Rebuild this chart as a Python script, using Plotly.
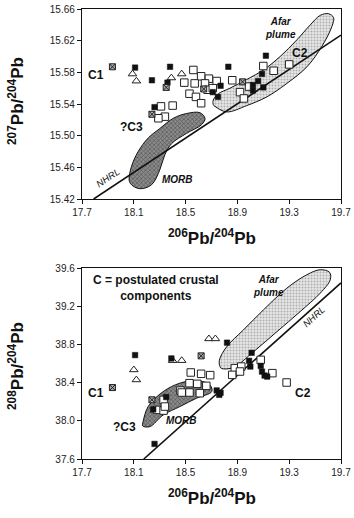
import plotly.graph_objects as go

# ---------------- top panel: 207Pb/204Pb vs 206Pb/204Pb ----------------
top_open_sq_x = [18.31, 18.40, 18.34, 18.29, 18.56, 18.62, 18.68, 18.49, 18.57, 18.65,
                 18.53, 18.58, 18.62, 18.67, 18.74, 18.86, 18.92, 18.95, 18.99, 19.10,
                 19.18, 19.30, 18.71]
top_open_sq_y = [15.537, 15.538, 15.524, 15.522, 15.583, 15.575, 15.572, 15.567, 15.566, 15.566,
                 15.553, 15.549, 15.541, 15.558, 15.569, 15.570, 15.555, 15.547, 15.562, 15.588,
                 15.582, 15.590, 15.560]
top_filled_x = [18.11, 18.24, 18.36, 18.38, 18.26, 18.83, 18.71, 18.77, 18.75, 19.12,
                19.09, 19.02, 19.06, 19.02, 19.10]
top_filled_y = [15.586, 15.570, 15.567, 15.587, 15.536, 15.587, 15.555, 15.563, 15.549, 15.601,
                15.578, 15.564, 15.569, 15.557, 15.561]
top_cross_x = [17.935, 18.35, 18.64, 18.94, 18.24]
top_cross_y = [15.587, 15.561, 15.559, 15.568, 15.527]
top_tri_x = [18.09, 18.12, 18.39, 18.47]
top_tri_y = [15.578, 15.569, 15.573, 15.578]

top_plume_x = [18.727, 18.817, 18.972, 19.127, 19.282, 19.437, 19.553, 19.630, 19.643, 19.605,
               19.540, 19.463, 19.359, 19.230, 19.101, 18.972, 18.843, 18.753, 18.714, 18.714, 18.727]
top_plume_y = [15.537, 15.530, 15.538, 15.549, 15.566, 15.587, 15.613, 15.638, 15.649, 15.654,
               15.652, 15.640, 15.621, 15.600, 15.583, 15.571, 15.560, 15.553, 15.545, 15.539, 15.537]
top_morb_x = [18.064, 18.082, 18.134, 18.211, 18.301, 18.405, 18.508, 18.611, 18.650, 18.624,
              18.508, 18.392, 18.340, 18.301, 18.237, 18.146, 18.082, 18.064]
top_morb_y = [15.444, 15.461, 15.480, 15.497, 15.509, 15.522, 15.528, 15.529, 15.522, 15.514,
              15.503, 15.490, 15.476, 15.457, 15.438, 15.433, 15.438, 15.444]
top_nhrl_x = [17.79, 19.70]
top_nhrl_y = [15.420, 15.627]

# ---------------- bottom panel: 208Pb/204Pb vs 206Pb/204Pb ----------------
bot_open_sq_x = [18.54, 18.62, 18.69, 18.53, 18.59, 18.66, 18.46, 18.53, 18.61, 18.33,
                 18.28, 18.33, 18.34, 18.47, 18.88, 18.93, 18.86, 19.08, 19.17, 19.28, 18.92]
bot_open_sq_y = [38.506, 38.492, 38.478, 38.394, 38.387, 38.366, 38.317, 38.296, 38.289, 38.219,
                 38.114, 38.107, 38.149, 38.296, 38.551, 38.568, 38.481, 38.638, 38.499, 38.401, 38.516]
bot_filled_x = [18.11, 18.39, 18.82, 18.25, 18.35, 18.26, 18.74, 18.76, 18.77, 19.01,
                18.99, 19.00, 19.08, 19.09, 19.11, 19.13]
bot_filled_y = [38.688, 38.653, 38.818, 38.119, 38.249, 37.758, 38.318, 38.272, 38.293, 38.712,
                38.628, 38.568, 38.575, 38.515, 38.474, 38.463]
bot_cross_x = [17.935, 18.62, 18.24]
bot_cross_y = [38.348, 38.680, 38.220]
bot_tri_x = [18.10, 18.12, 18.40, 18.47, 18.68, 18.73]
bot_tri_y = [38.534, 38.429, 38.631, 38.631, 38.859, 38.859]

bot_plume_x = [18.779, 18.869, 19.024, 19.205, 19.385, 19.540, 19.617, 19.612, 19.540, 19.437,
               19.282, 19.101, 18.946, 18.817, 18.761, 18.766, 18.779]
bot_plume_y = [38.547, 38.558, 38.723, 38.933, 39.144, 39.337, 39.477, 39.554, 39.582, 39.530,
               39.389, 39.161, 38.951, 38.775, 38.635, 38.565, 38.547]
bot_morb_x = [18.172, 18.211, 18.327, 18.456, 18.585, 18.688, 18.702, 18.585, 18.456, 18.327,
              18.224, 18.169, 18.172]
bot_morb_y = [37.991, 38.149, 38.306, 38.394, 38.421, 38.376, 38.306, 38.237, 38.149, 38.061,
              37.939, 37.946, 37.991]
bot_nhrl_x = [18.177, 19.70]
bot_nhrl_y = [37.600, 39.444]

x_ticks = [17.7, 18.1, 18.5, 18.9, 19.3, 19.7]
top_y_ticks = [15.42, 15.46, 15.50, 15.54, 15.58, 15.62, 15.66]
bot_y_ticks = [37.6, 38.0, 38.4, 38.8, 39.2, 39.6]

W, H = 354, 518
FONT = "Liberation Sans, Arial, sans-serif"

fig = go.Figure()


def add_panel(xa, ya, plume_x, plume_y, morb_x, morb_y, nx, ny,
              osx, osy, fx, fy, cx, cy, tx, ty):
    fig.add_trace(go.Scatter(x=plume_x, y=plume_y, mode="lines", fill="toself",
                             line=dict(color="#111", width=1, shape="spline", smoothing=1.0),
                             fillcolor="#d9d9d9",
                             fillpattern=dict(shape=".", fgcolor="#777", bgcolor="#e6e6e6",
                                              size=3, solidity=0.35),
                             xaxis=xa, yaxis=ya, hoverinfo="skip"))
    fig.add_trace(go.Scatter(x=morb_x, y=morb_y, mode="lines", fill="toself",
                             line=dict(color="#111", width=1, shape="spline", smoothing=1.0),
                             fillcolor="#666",
                             fillpattern=dict(shape="x", fgcolor="#222", bgcolor="#8a8a8a",
                                              size=3, solidity=0.4),
                             xaxis=xa, yaxis=ya, hoverinfo="skip"))
    fig.add_trace(go.Scatter(x=nx, y=ny, mode="lines", line=dict(color="#111", width=1.6),
                             xaxis=xa, yaxis=ya, hoverinfo="skip"))
    fig.add_trace(go.Scatter(x=osx, y=osy, mode="markers",
                             marker=dict(symbol="square", size=7.5, color="white",
                                         line=dict(color="#222", width=1)),
                             xaxis=xa, yaxis=ya))
    fig.add_trace(go.Scatter(x=tx, y=ty, mode="markers",
                             marker=dict(symbol="triangle-up", size=7.5, color="white",
                                         line=dict(color="#222", width=1)),
                             xaxis=xa, yaxis=ya))
    fig.add_trace(go.Scatter(x=fx, y=fy, mode="markers",
                             marker=dict(symbol="square", size=5.5, color="#111",
                                         line=dict(color="#111", width=0.5)),
                             xaxis=xa, yaxis=ya))
    fig.add_trace(go.Scatter(x=cx, y=cy, mode="markers",
                             marker=dict(symbol="square-x", size=6, color="#aaa",
                                         line=dict(color="#222", width=1)),
                             xaxis=xa, yaxis=ya))


add_panel("x", "y", top_plume_x, top_plume_y, top_morb_x, top_morb_y, top_nhrl_x, top_nhrl_y,
          top_open_sq_x, top_open_sq_y, top_filled_x, top_filled_y, top_cross_x, top_cross_y,
          top_tri_x, top_tri_y)
add_panel("x2", "y2", bot_plume_x, bot_plume_y, bot_morb_x, bot_morb_y, bot_nhrl_x, bot_nhrl_y,
          bot_open_sq_x, bot_open_sq_y, bot_filled_x, bot_filled_y, bot_cross_x, bot_cross_y,
          bot_tri_x, bot_tri_y)

px_l, px_r = 82, 341
top_t, top_b = 9, 199
bot_t, bot_b = 268, 459

axis_common = dict(showline=True, mirror=True, linecolor="#111", linewidth=1.2,
                   showgrid=False, zeroline=False, ticks="outside", ticklen=4,
                   tickcolor="#111", automargin=False,
                   tickfont=dict(family=FONT, size=10, color="#222"))

fig.update_layout(
    width=W, height=H, margin=dict(l=0, r=0, t=0, b=0, autoexpand=False),
    paper_bgcolor="white", plot_bgcolor="white", showlegend=False,
    xaxis=dict(domain=[px_l / W, px_r / W], range=[17.7, 19.7], tickvals=x_ticks,
               tickformat=".1f", anchor="y", **axis_common),
    yaxis=dict(domain=[1 - top_b / H, 1 - top_t / H], range=[15.42, 15.66],
               tickvals=top_y_ticks, tickformat=".2f", anchor="x", **axis_common),
    xaxis2=dict(domain=[px_l / W, px_r / W], range=[17.7, 19.7], tickvals=x_ticks,
                tickformat=".1f", anchor="y2", **axis_common),
    yaxis2=dict(domain=[1 - bot_b / H, 1 - bot_t / H], range=[37.6, 39.6],
                tickvals=bot_y_ticks, tickformat=".1f", anchor="x2", **axis_common),
)

ann = []
title_font = dict(family=FONT, size=17, color="#111")


def T(s):
    return "<b>" + s + "</b>"


C = dict(xanchor="center", yanchor="middle", showarrow=False)

# axis titles
ann.append(dict(text=T("<sup>206</sup>Pb/<sup>204</sup>Pb"), xref="paper", yref="paper",
                x=212 / W, y=1 - 237 / H, font=title_font, **C))
ann.append(dict(text=T("<sup>206</sup>Pb/<sup>204</sup>Pb"), xref="paper", yref="paper",
                x=212 / W, y=1 - 497 / H, font=title_font, **C))
ann.append(dict(text=T("<sup>207</sup>Pb/<sup>204</sup>Pb"), xref="paper", yref="paper",
                x=16 / W, y=1 - 101 / H, textangle=-90, font=title_font, **C))
ann.append(dict(text=T("<sup>208</sup>Pb/<sup>204</sup>Pb"), xref="paper", yref="paper",
                x=16 / W, y=1 - 366 / H, textangle=-90, font=title_font, **C))

lab = dict(family=FONT, size=12, color="#111")
ital = dict(family=FONT, size=10, color="#111")

# top panel labels
ann += [
    dict(text=T("C1"), x=17.81, y=15.576, xref="x", yref="y", font=lab, **C),
    dict(text=T("C2"), x=19.38, y=15.604, xref="x", yref="y", font=lab, **C),
    dict(text=T("?C3"), x=18.08, y=15.511, xref="x", yref="y", font=lab, **C),
    dict(text=T("<i>Afar<br>plume</i>"), x=19.23, y=15.636, xref="x", yref="y", font=ital, **C),
    dict(text=T("<i>MORB</i>"), x=18.44, y=15.444, xref="x", yref="y", font=ital, **C),
    dict(text="<i>NHRL</i>", x=17.90, y=15.447, xref="x", yref="y", textangle=-34,
         font=dict(family=FONT, size=9.5, color="#111"), **C),
]
# bottom panel labels
ann += [
    dict(text=T("C = postulated crustal<br>components"), x=18.27, y=39.39, xref="x2", yref="y2",
         font=dict(family=FONT, size=12, color="#111"), **C),
    dict(text=T("C1"), x=17.81, y=38.29, xref="x2", yref="y2", font=lab, **C),
    dict(text=T("C2"), x=19.41, y=38.29, xref="x2", yref="y2", font=lab, **C),
    dict(text=T("?C3"), x=18.03, y=37.93, xref="x2", yref="y2", font=lab, **C),
    dict(text=T("<i>Afar<br>plume</i>"), x=19.14, y=39.41, xref="x2", yref="y2", font=ital, **C),
    dict(text=T("<i>MORB</i>"), x=18.47, y=38.00, xref="x2", yref="y2", font=ital, **C),
    dict(text="<i>NHRL</i>", x=19.49, y=39.09, xref="x2", yref="y2", textangle=-42,
         font=dict(family=FONT, size=9.5, color="#111"), **C),
]
fig.update_layout(annotations=ann)

fig.write_html("out.html",
               config={"displayModeBar": False, "staticPlot": True},
               post_script="document.body.style.margin='0px';"
                           "document.body.style.overflow='hidden';")
